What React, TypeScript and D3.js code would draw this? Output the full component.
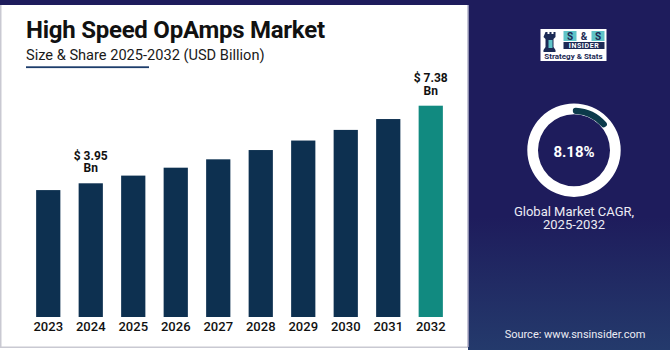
import React from "react";
import * as d3 from "d3";

// market size, USD billion
const years = ["2023", "2024", "2025", "2026", "2027", "2028", "2029", "2030", "2031", "2032"];
const marketSize = [3.65, 3.95, 4.29, 4.64, 5.01, 5.42, 5.84, 6.31, 6.79, 7.38];
const labelledYears = ["2024", "2032"];
const cagr = 8.18;
const cagrLabel = ["Global Market CAGR,", "2025-2032"];

export default function App() {
    const ref = React.useRef<SVGSVGElement>(null);

    React.useEffect(() => {
        d3.select(ref.current).selectAll("*").remove();
        drawChart();
    });

    function drawChart() {
        const width = 670;
        const height = 350;
        const navy = "#1e1c5c";
        const font = "Roboto, 'Open Sans', sans-serif";

        const svg = d3.select(ref.current).attr("width", width).attr("height", height);

        const defs = svg.append("defs");
        const grad = defs
            .append("linearGradient")
            .attr("id", "panelGrad")
            .attr("x1", 0)
            .attr("y1", 0)
            .attr("x2", 0)
            .attr("y2", 1);
        grad.append("stop").attr("offset", "0%").attr("stop-color", navy);
        grad.append("stop").attr("offset", "62%").attr("stop-color", navy);
        grad.append("stop").attr("offset", "100%").attr("stop-color", "#243a6c");

        // frame
        svg.append("rect").attr("width", width).attr("height", height).attr("fill", "#ffffff");
        svg.append("rect").attr("x", 0).attr("y", 0).attr("width", 1.5).attr("height", 348).attr("fill", "#c9c9d2");
        svg.append("rect").attr("x", 0).attr("y", 346.5).attr("width", 469).attr("height", 1.5).attr("fill", "#c9c9d2");
        svg.append("rect").attr("x", 468).attr("y", 0).attr("width", 202).attr("height", height).attr("fill", "url(#panelGrad)");
        svg.append("rect").attr("x", 467.5).attr("y", 5).attr("width", 1.5).attr("height", 342).attr("fill", "#8c8cae");
        svg.append("rect").attr("x", 0).attr("y", 0).attr("width", width).attr("height", 5).attr("fill", navy);

        // titles
        svg.append("text")
            .attr("x", 26)
            .attr("y", 37.5)
            .attr("font-family", font)
            .attr("font-weight", "bold")
            .attr("font-size", 24)
            .attr("letter-spacing", -0.25)
            .attr("fill", "#111111")
            .text("High Speed OpAmps Market");
        svg.append("text")
            .attr("x", 26)
            .attr("y", 59.5)
            .attr("font-family", font)
            .attr("font-size", 14.6)
            .attr("fill", "#1a1a1a")
            .text("Size & Share 2025-2032 (USD Billion)");
        svg.append("rect").attr("x", 26).attr("y", 66.3).attr("width", 123).attr("height", 1.8).attr("fill", "#1d3d6b");

        // bars
        const x = d3.scaleBand().domain(years).range([27, 452]).paddingInner(0.43).paddingOuter(0.215);
        const y = d3.scaleLinear().domain([-1.96, 7.38]).range([317, 105.7]);

        const data = years.map((yr, i) => ({ year: yr, value: marketSize[i] }));

        svg.selectAll("rect.bar")
            .data(data)
            .enter()
            .append("rect")
            .attr("class", "bar")
            .attr("x", (d) => x(d.year)!)
            .attr("y", (d) => y(d.value))
            .attr("width", x.bandwidth())
            .attr("height", (d) => y(-1.96) - y(d.value))
            .attr("fill", (d, i) => (i === data.length - 1 ? "#118a80" : "#0d3050"));

        svg.selectAll("text.year")
            .data(data)
            .enter()
            .append("text")
            .attr("class", "year")
            .attr("x", (d) => x(d.year)! + x.bandwidth() / 2)
            .attr("y", 331)
            .attr("text-anchor", "middle")
            .attr("font-family", font)
            .attr("font-weight", 500)
            .attr("font-size", 13)
            .attr("fill", "#111111")
            .text((d) => d.year);

        // value callouts, two separate lines
        const labelled = data.filter((d) => labelledYears.includes(d.year));
        const callout = (cls: string, dy: number, fmt: (d: { year: string; value: number }) => string) =>
            svg
                .selectAll("text." + cls)
                .data(labelled)
                .enter()
                .append("text")
                .attr("class", cls)
                .attr("x", (d) => x(d.year)! + x.bandwidth() / 2)
                .attr("y", (d) => y(d.value) + dy)
                .attr("text-anchor", "middle")
                .attr("font-family", font)
                .attr("font-weight", "bold")
                .attr("font-size", 12)
                .attr("fill", "#111111")
                .text(fmt);
        callout("vtop", -23.5, (d) => "$ " + d.value.toFixed(2));
        callout("vbot", -10.8, () => "Bn");

        // logo
        const logo = svg.append("g").attr("transform", "translate(540.5,29)");
        logo.append("rect").attr("width", 66).attr("height", 32).attr("fill", "#ffffff");
        // rook icon
        logo.append("path")
            .attr("d", "M5,3 h2 v2 h2 v-2 h2 v2 h2 v-2 h2 v5 l-2,2 v8 l2,3 v2 h-12 v-2 l2,-3 v-8 l-2,-2 z")
            .attr("fill", "#1c2a55");
        logo.append("rect").attr("x", 8).attr("y", 11).attr("width", 4).attr("height", 8).attr("fill", "#5fc4c8");
        ["S", "&", "S"].forEach((s, i) => {
            if (s !== "&") {
                logo.append("rect").attr("x", 23 + i * 14).attr("y", 2).attr("width", 13).attr("height", 10).attr("fill", "#5fc4c8");
            }
            logo.append("text")
                .attr("x", 29.5 + i * 14)
                .attr("y", 10.8)
                .attr("text-anchor", "middle")
                .attr("font-family", font)
                .attr("font-weight", "bold")
                .attr("font-size", 10)
                .attr("fill", "#1c2a55")
                .text(s);
        });
        logo.append("rect").attr("x", 23).attr("y", 13).attr("width", 41).attr("height", 7).attr("fill", "#1c2a55");
        logo.append("text")
            .attr("x", 43.5)
            .attr("y", 19)
            .attr("text-anchor", "middle")
            .attr("font-family", font)
            .attr("font-weight", "bold")
            .attr("font-size", 7)
            .attr("letter-spacing", 0.6)
            .attr("fill", "#ffffff")
            .text("INSIDER");
        logo.append("text")
            .attr("x", 33)
            .attr("y", 29.5)
            .attr("text-anchor", "middle")
            .attr("font-family", font)
            .attr("font-weight", "bold")
            .attr("font-size", 8)
            .attr("fill", "#1c2a55")
            .text("Strategy & Stats");

        // CAGR donut
        const cx = 574;
        const cy = 150.2;
        const ring = svg.append("g").attr("transform", `translate(${cx},${cy})`);
        ring.append("path")
            .attr("d", d3.arc()({ innerRadius: 36, outerRadius: 46.7, startAngle: 0, endAngle: 2 * Math.PI })!)
            .attr("fill", "#ffffff");
        ring.append("path")
            .attr(
                "d",
                d3.arc().cornerRadius(3)({ innerRadius: 36.3, outerRadius: 42.6, startAngle: -0.03, endAngle: 0.93 })!
            )
            .attr("fill", "#0c3a4b");
        ring.append("text")
            .attr("y", 7.2)
            .attr("text-anchor", "middle")
            .attr("font-family", font)
            .attr("font-weight", "bold")
            .attr("font-size", 15)
            .attr("fill", "#ffffff")
            .text(cagr.toFixed(2) + "%");

        cagrLabel.forEach((t, i) => {
            svg.append("text")
                .attr("x", cx)
                .attr("y", 215.7 + i * 13.6)
                .attr("text-anchor", "middle")
                .attr("font-family", font)
                .attr("font-size", 13)
                .attr("fill", "#ececf4")
                .text(t);
        });

        svg.append("text")
            .attr("x", 575)
            .attr("y", 337.7)
            .attr("text-anchor", "middle")
            .attr("font-family", font)
            .attr("font-size", 11)
            .attr("fill", "#ececf4")
            .text("Source: www.snsinsider.com");
    }

    return <svg ref={ref} style={{ position: "absolute", left: 0, top: 0, display: "block" }} />;
}
